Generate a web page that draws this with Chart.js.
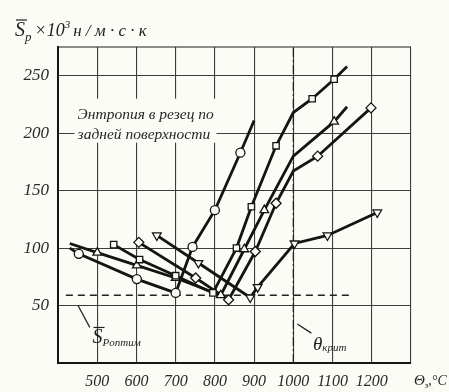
<!DOCTYPE html>
<html>
<head>
<meta charset="utf-8">
<script src="https://cdn.jsdelivr.net/npm/chart.js@4/dist/chart.umd.min.js"></script>
<style>
  html, body { margin: 0; padding: 0; background: #fbfcf6; }
</style>
</head>
<body>
<canvas id="chart" width="449" height="392"></canvas>
<script>
// температура резания, °C  /  энтропия S_p x10^3
var circT = [430, 453, 601, 700, 743, 800, 865, 900];
var circS = [100, 95, 73, 61, 101, 133, 183, 211];
var sqT = [542, 608, 700, 795, 855, 893, 956, 1000, 1048, 1104, 1137];
var sqS = [103, 90, 76, 61, 100, 136, 189, 218, 230, 247, 258];
var triT = [430, 500, 601, 700, 815, 875, 926, 1000, 1104, 1137];
var triS = [104, 96, 85, 74, 59, 99, 133, 180, 210, 223];
var diaT = [606, 751, 835, 903, 956, 1000, 1062, 1198];
var diaS = [105, 74, 55, 97, 139, 167, 180, 222];
var invT = [652, 758, 890, 909, 1003, 1087, 1214];
var invS = [111, 87, 57, 66, 104, 111, 131];
var optimT = [420, 1143];
var optimS = 59;      // S_p оптим
var critT = 1000;     // Θ крит
var xTicks = [400, 500, 600, 700, 800, 900, 1000, 1100, 1200, 1300];
var yTicks = [0, 50, 100, 150, 200, 250];

function pts(xs, ys) {
  return xs.map(function (x, i) { return { x: x, y: Array.isArray(ys) ? ys[i] : ys }; });
}

function serif(size) { return 'italic ' + size + 'px "Liberation Serif"'; }

// pieces of text on one baseline, with sub/superscripts and overbar
function drawRun(ctx, x, y, parts) {
  parts.forEach(function (p) {
    ctx.font = serif(p.size);
    ctx.fillText(p.text, x, y + (p.dy || 0));
    var w = ctx.measureText(p.text).width;
    if (p.bar) {
      ctx.beginPath();
      ctx.moveTo(x + 1, y - p.size * 0.8);
      ctx.lineTo(x + w + 2, y - p.size * 0.8);
      ctx.stroke();
    }
    x += w + (p.gap || 0);
  });
  return x;
}

function line(color, width) {
  return { type: 'line', borderColor: color, borderWidth: width, pointRadius: 0, fill: false, tension: 0 };
}

function series(data, style, radius, rot) {
  return {
    data: data,
    borderColor: '#141414',
    borderWidth: 2.8,
    pointStyle: style,
    pointRotation: rot || 0,
    pointRadius: radius,
    pointBackgroundColor: '#fbfcf6',
    pointBorderColor: '#141414',
    pointBorderWidth: 1.3,
    tension: 0
  };
}

var labels = {
  id: 'labels',
  beforeDatasetsDraw: function (chart) {
    var ctx = chart.ctx, x = chart.scales.x, y = chart.scales.y;
    ctx.save();
    ctx.fillStyle = '#fbfcf6';
    ctx.fillRect(x.getPixelForValue(442), y.getPixelForValue(230), 142, 44);
    ctx.fillStyle = '#262626';
    ctx.font = serif(15.5);
    ctx.fillText('Энтропия в резец по', x.getPixelForValue(450), y.getPixelForValue(212));
    ctx.fillText('задней поверхности', x.getPixelForValue(450), y.getPixelForValue(195));
    ctx.restore();
  },
  afterDraw: function (chart) {
    var ctx = chart.ctx, x = chart.scales.x, y = chart.scales.y, a = chart.chartArea;
    ctx.save();
    ctx.fillStyle = '#1e1e1e';
    ctx.strokeStyle = '#1e1e1e';
    ctx.lineWidth = 1.2;
    ctx.textBaseline = 'alphabetic';

    // frame top
    ctx.beginPath();
    ctx.moveTo(a.left, a.top);
    ctx.lineTo(a.right, a.top);
    ctx.stroke();

    // y title
    drawRun(ctx, 15, 36, [
      { text: 'S', size: 20, bar: true },
      { text: 'p', size: 13, dy: 5, gap: 3 },
      { text: '×10', size: 18 },
      { text: '3', size: 11, dy: -8, gap: 3 },
      { text: 'н / м · с · к', size: 17 }
    ]);

    // x title
    drawRun(ctx, a.right + 3, 385, [
      { text: 'Θ', size: 15 },
      { text: 'з', size: 9, dy: 3 },
      { text: ',°C', size: 14 }
    ]);

    // S_p оптим
    ctx.beginPath();
    ctx.moveTo(x.getPixelForValue(451), y.getPixelForValue(50));
    ctx.lineTo(x.getPixelForValue(481), y.getPixelForValue(31));
    ctx.stroke();
    drawRun(ctx, x.getPixelForValue(488), y.getPixelForValue(17), [
      { text: 'S', size: 20, bar: true },
      { text: 'Pоптим', size: 11, dy: 3 }
    ]);

    // Θ крит
    ctx.beginPath();
    ctx.moveTo(x.getPixelForValue(1010), y.getPixelForValue(34));
    ctx.lineTo(x.getPixelForValue(1046), y.getPixelForValue(26));
    ctx.stroke();
    drawRun(ctx, x.getPixelForValue(1050), y.getPixelForValue(11), [
      { text: 'θ', size: 19 },
      { text: 'крит', size: 11, dy: 1 }
    ]);
    ctx.restore();
  }
};

var optim = line('#222', 1.5);
optim.data = pts(optimT, optimS);
optim.borderDash = [7, 5];
var crit = line('#222', 1.3);
crit.data = pts([critT, critT], [0, 275]);
crit.borderDash = [9, 3, 2, 3];

new Chart(document.getElementById('chart'), {
  type: 'line',
  data: {
    datasets: [
      series(pts(circT, circS), 'circle', [0, 4.5, 4.5, 4.5, 4.5, 4.5, 4.5, 0]),
      series(pts(sqT, sqS), 'rect', [4.5, 4.5, 4.5, 4.5, 4.5, 4.5, 4.5, 0, 4.5, 4.5, 0]),
      series(pts(triT, triS), 'triangle', [0, 5, 5, 5, 5, 5, 5, 0, 5, 0]),
      series(pts(diaT, diaS), 'rectRot', [5, 5, 5, 5, 5, 0, 5, 5]),
      series(pts(invT, invS), 'triangle', 5, 180),
      optim,
      crit
    ]
  },
  options: {
    responsive: false,
    animation: false,
    layout: { padding: { top: 47, right: 38, left: 0, bottom: 0 } },
    plugins: { legend: { display: false }, tooltip: { enabled: false } },
    scales: {
      x: {
        type: 'linear', min: 400, max: 1300,
        afterBuildTicks: function (s) { s.ticks = xTicks.map(function (v) { return { value: v }; }); },
        afterFit: function (s) { s.height = 29; },
        grid: { color: '#3c3c3c', lineWidth: 1.1, drawTicks: false },
        border: { color: '#151515', width: 2 },
        ticks: {
          padding: 9, color: '#2a2a2a', autoSkip: false, maxRotation: 0,
          font: { family: 'Liberation Serif', style: 'italic', size: 16 },
          callback: function (v) { return (v === 400 || v === 1300) ? '' : v; }
        }
      },
      y: {
        min: 0, max: 275,
        afterBuildTicks: function (s) { s.ticks = yTicks.map(function (v) { return { value: v }; }); },
        afterFit: function (s) { s.width = 58; },
        grid: { color: '#3c3c3c', lineWidth: 1.1, drawTicks: false },
        border: { color: '#151515', width: 2 },
        ticks: {
          padding: 9, color: '#2a2a2a',
          font: { family: 'Liberation Serif', style: 'italic', size: 17 },
          callback: function (v) { return v === 0 ? '' : v; }
        }
      }
    }
  },
  plugins: [labels]
});
</script>
</body>
</html>
